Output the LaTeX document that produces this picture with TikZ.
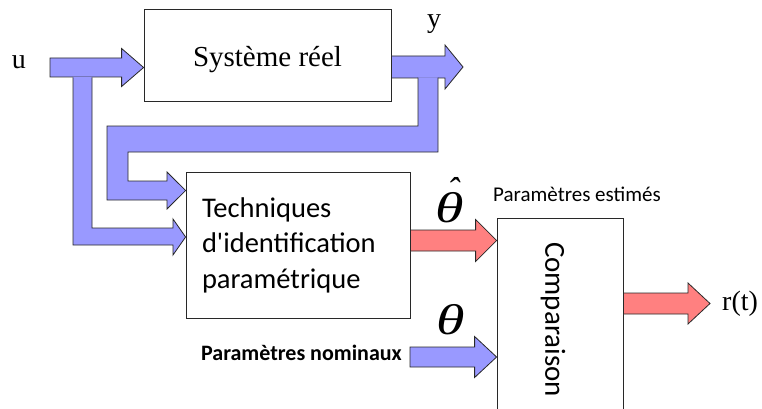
\documentclass[tikz,border=0pt]{standalone}
\usepackage{fontspec}
\usepackage{graphicx}
\setmainfont{Liberation Serif}
\newfontfamily\carl{Carlito}
\usetikzlibrary{calc}
\definecolor{bluefill}{RGB}{153,153,255}
\definecolor{redfill}{RGB}{255,128,128}
\definecolor{edge}{RGB}{40,40,40}
\newcommand\widetheta{\scalebox{1.35}[1]{θ}}
% straight block arrow: #1 fill colour, #2 start coord, #3 tip coord, #4 shaft half, #5 head half, #6 head length
\newcommand\blockarr[6]{%
  \filldraw[fill=#1, draw=edge, line width=0.8pt, line join=miter]
    let \p1=(#2), \p2=(#3) in
    (\x1,\y1+#4) -- (\x2-#6,\y1+#4) -- (\x2-#6,\y1+#5) -- (\x2,\y1)
    -- (\x2-#6,\y1-#5) -- (\x2-#6,\y1-#4) -- (\x1,\y1-#4) -- cycle;}
\begin{document}
\begin{tikzpicture}[x=1pt,y=-1pt,
  box/.style={draw=edge, line width=0.8pt, fill=white, inner sep=0pt},
  serif/.style={font=\fontsize{28}{28}\selectfont, inner sep=0pt},
  greek/.style={inner sep=0pt, anchor=base, font=\itshape\fontsize{43}{43}\selectfont},
  bentline/.style={draw=edge, line width=0.8pt, line join=miter}]
\useasboundingbox (0,0) rectangle (762,409);

% boxes
\node[box, minimum width=247pt, minimum height=92pt, text height=26pt, text depth=2pt,
      font=\fontsize{29}{33}\selectfont] (sys) at (267.5,55) {Système réel};
\node[box, minimum width=224pt, minimum height=146pt, text width=192pt, align=left,
      font=\carl\fontsize{28.5}{35.5}\selectfont] (tech) at (298,245)
      {Techniques\\d'identification\\paramétrique};
\node[box, minimum width=126pt, minimum height=197pt] (comp) at (560,316.5) {};
\node[rotate=-90, inner sep=0pt, font=\carl\fontsize{29}{29}\selectfont] (comptxt) at (553,319.5) {Comparaison};

% labels
\node[serif, anchor=base] (ulab) at (19,69) {u};
\node[serif, anchor=base] (ylab) at (434,28) {y};
\node[serif, anchor=base west] (rlab) at (722,310) {r(t)};
\node[inner sep=0pt, anchor=base west, font=\carl\fontsize{21}{21}\selectfont] (estlab) at (493,201) {Paramètres estimés};
\node[inner sep=0pt, anchor=base east, font=\carl\bfseries\fontsize{22}{22}\selectfont] (nomlab) at (402,360) {Paramètres nominaux};
\node[greek] (thhat) at (450,222)
  {\ooalign{\widetheta\cr\hidewidth\raisebox{19.5pt}{\kern6pt\fontsize{36}{36}\selectfont ˆ}\hidewidth\cr}};
\node[greek] (th) at (450.5,334) {\widetheta};

% coordinates for arrows
\coordinate (uS) at (50,67.5);
\coordinate (uT) at (sys.west |- uS);
\coordinate (yS) at (sys.east |- 0,67);
\coordinate (yT) at (463,67);
\coordinate (thS) at (tech.east |- 0,240.5);
\coordinate (thT) at (comp.west |- thS);
\coordinate (nS) at (410,357);
\coordinate (nT) at (comp.west |- nS);
\coordinate (rS) at (comp.east |- 0,303.5);
\coordinate (rT) at (710,303.5);

% straight arrows
\blockarr{bluefill}{uS}{uT}{9.5pt}{19pt}{22pt}
\blockarr{bluefill}{yS}{yT}{11pt}{22pt}{18pt}

% branch of u to the identification block
\fill[bluefill] (73,76.8) -- (73,245) -- (173,245) -- (173,255) -- (tech.west |- 0,237)
  -- (173,219) -- (173,228) -- (92,228) -- (92,76.8) -- cycle;
\draw[bentline] (73,77.5) -- (73,245) -- (173,245) -- (173,255) -- (tech.west |- 0,237)
  -- (173,219) -- (173,228) -- (92,228) -- (92,77.5);

% feedback of y to the identification block
\fill[bluefill] (418,77.3) -- (418,126) -- (107,126) -- (107,200) -- (167,200) -- (167,209)
  -- (tech.west |- 0,190.5) -- (167,172) -- (167,181) -- (128,181) -- (128,152) -- (438,152) -- (438,77.3) -- cycle;
\draw[bentline] (418,77.7) -- (418,126) -- (107,126) -- (107,200) -- (167,200) -- (167,209)
  -- (tech.west |- 0,190.5) -- (167,172) -- (167,181) -- (128,181) -- (128,152) -- (438,152) -- (438,77.7);

\blockarr{redfill}{thS}{thT}{10.5pt}{21pt}{21pt}
\blockarr{bluefill}{nS}{nT}{10pt}{20.5pt}{22pt}
\blockarr{redfill}{rS}{rT}{10.5pt}{20.5pt}{22pt}
\end{tikzpicture}
\end{document}
